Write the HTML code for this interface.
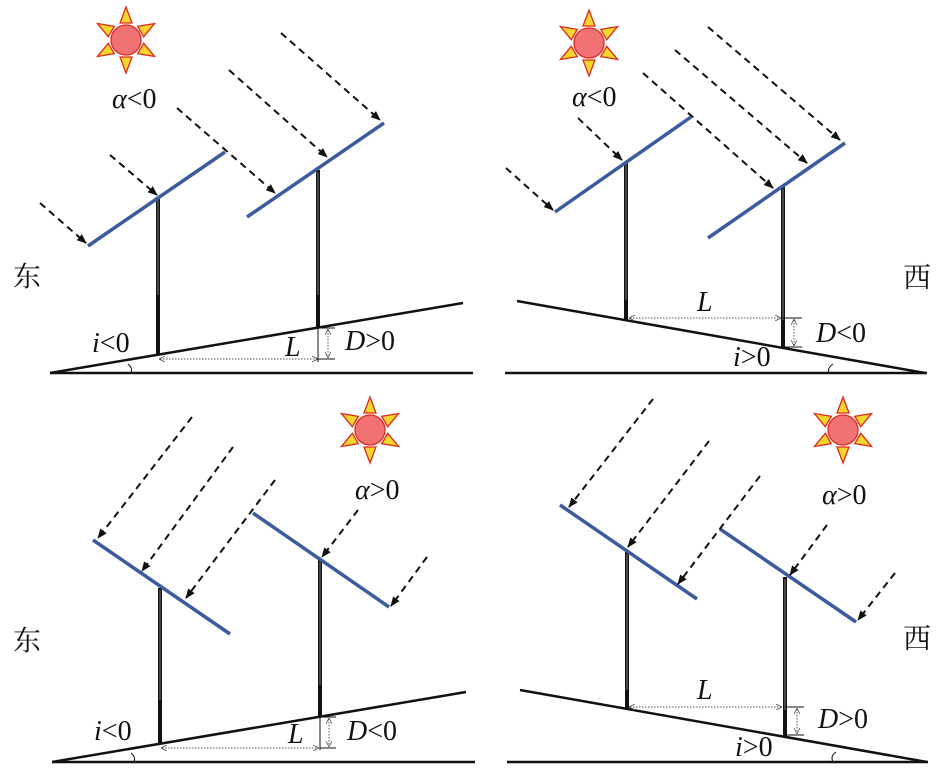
<!DOCTYPE html>
<html><head><meta charset="utf-8"><style>
html,body{margin:0;padding:0;background:#fff;}
svg{display:block;}
.g{stroke:#111;stroke-width:2.5;fill:none}
.p{stroke:#3b5b9c;stroke-width:3.5;fill:none}
.r{stroke:#111;stroke-width:2;stroke-dasharray:7,5;fill:none;marker-end:url(#ah)}
.d{stroke:#555;stroke-width:1;stroke-dasharray:1.5,1.5;fill:none;marker-end:url(#sa);marker-start:url(#sa)}
.t{stroke:#111;stroke-width:1;fill:none}
.w{stroke:#999;stroke-width:0.8;}
text{font-family:"Liberation Serif","DejaVu Serif",serif;font-size:28px;fill:#111}
.i{font-style:italic}
.cn{font-family:"Liberation Serif","Noto Serif CJK SC",serif;font-size:28px}
</style></head><body>
<svg width="945" height="779" viewBox="0 0 945 779" xmlns="http://www.w3.org/2000/svg">
<defs>
<marker id="ah" markerWidth="10" markerHeight="10" refX="9" refY="5" orient="auto" markerUnits="userSpaceOnUse"><path d="M0,1 L10,5 L0,9 z" fill="#111"/></marker>
<marker id="sa" markerWidth="6" markerHeight="6" refX="5" refY="3" orient="auto-start-reverse" markerUnits="userSpaceOnUse"><path d="M0,0 L6,3 L0,6" fill="none" stroke="#555" stroke-width="0.8"/></marker>
<g id="sun">
<g fill="#f5d62c" stroke="#e0281e" stroke-width="1.3">
<polygon points="-6,-17 6,-17 0,-33"/>
<polygon points="-6,-17 6,-17 0,-33" transform="rotate(60)"/>
<polygon points="-6,-17 6,-17 0,-33" transform="rotate(120)"/>
<polygon points="-6,-17 6,-17 0,-33" transform="rotate(180)"/>
<polygon points="-6,-17 6,-17 0,-33" transform="rotate(240)"/>
<polygon points="-6,-17 6,-17 0,-33" transform="rotate(300)"/>
</g>
<circle r="15" fill="#f07272" stroke="#e0281e" stroke-width="1.3"/>
</g>
</defs>

<!-- Panel 1 -->
<use href="#sun" x="126" y="40"/>
<line class="g" x1="50" y1="373" x2="473" y2="373"/>
<line class="g" x1="50" y1="373" x2="463" y2="303"/>
<path class="t" d="M128,364 Q133,368 131,373"/>
<rect x="156" y="198" width="4" height="157" fill="#111"/><line class="w" x1="158" y1="200" x2="158" y2="295"/>
<rect x="316" y="170" width="4" height="158" fill="#111"/><line class="w" x1="318" y1="172" x2="318" y2="295"/>
<line class="p" x1="88" y1="246" x2="225" y2="152"/>
<line class="p" x1="247" y1="217" x2="384" y2="123"/>
<line class="r" x1="40" y1="203" x2="86" y2="243"/>
<line class="r" x1="110" y1="155" x2="157" y2="195"/>
<line class="r" x1="177" y1="108" x2="275" y2="193"/>
<line class="r" x1="229" y1="70" x2="327" y2="157"/>
<line class="r" x1="281" y1="33" x2="380" y2="120"/>
<line class="d" x1="160" y1="359" x2="317" y2="359"/>
<line class="t" x1="318" y1="328" x2="335" y2="328"/><line class="t" x1="318" y1="359" x2="335" y2="359"/>
<line class="t" x1="318" y1="328" x2="318" y2="362"/>
<line class="d" x1="328" y1="330" x2="328" y2="357"/>
<text x="112" y="108"><tspan class="i">α</tspan>&lt;0</text>
<text x="92" y="352"><tspan class="i">i</tspan>&lt;0</text>
<text x="285" y="356" class="i">L</text>
<text x="345" y="350"><tspan class="i">D</tspan>&gt;0</text>
<text x="13" y="286" class="cn">东</text>

<!-- Panel 2 -->
<use href="#sun" x="589" y="43"/>
<line class="g" x1="505" y1="373" x2="927" y2="373"/>
<line class="g" x1="517" y1="301" x2="925" y2="373"/>
<path class="t" d="M833,364 Q827,368 829,373"/>
<rect x="624" y="162" width="4" height="158" fill="#111"/><line class="w" x1="626" y1="164" x2="626" y2="300"/>
<rect x="781" y="187" width="4" height="161" fill="#111"/><line class="w" x1="783" y1="189" x2="783" y2="320"/>
<line class="p" x1="555" y1="212" x2="691" y2="117"/>
<line class="p" x1="708" y1="238" x2="845" y2="143"/>
<line class="r" x1="506" y1="168" x2="553" y2="210"/>
<line class="r" x1="578" y1="118" x2="622" y2="160"/>
<line class="r" x1="643" y1="73" x2="773" y2="188"/>
<line class="r" x1="675" y1="50" x2="807" y2="163"/>
<line class="r" x1="708" y1="27" x2="840" y2="140"/>
<line class="d" x1="630" y1="318" x2="780" y2="318"/>
<line class="t" x1="783" y1="318" x2="802" y2="318"/><line class="t" x1="783" y1="347" x2="802" y2="347"/>
<line class="d" x1="794" y1="320" x2="794" y2="345"/>
<text x="572" y="106"><tspan class="i">α</tspan>&lt;0</text>
<text x="697" y="311" class="i">L</text>
<text x="816" y="342"><tspan class="i">D</tspan>&lt;0</text>
<text x="733" y="366"><tspan class="i">i</tspan>&gt;0</text>
<text x="903" y="287" class="cn">西</text>

<!-- Panel 3 -->
<use href="#sun" x="370" y="430"/>
<line class="g" x1="52" y1="762" x2="475" y2="762"/>
<line class="g" x1="52" y1="762" x2="466" y2="692"/>
<path class="t" d="M131,753 Q136,757 134,762"/>
<rect x="158" y="588" width="4" height="155" fill="#111"/><line class="w" x1="160" y1="590" x2="160" y2="700"/>
<rect x="318" y="560" width="4" height="156" fill="#111"/><line class="w" x1="320" y1="562" x2="320" y2="685"/>
<line class="p" x1="93" y1="540" x2="230" y2="634"/>
<line class="p" x1="253" y1="513" x2="389" y2="607"/>
<line class="r" x1="192" y1="417" x2="98" y2="538"/>
<line class="r" x1="233" y1="447" x2="142" y2="571"/>
<line class="r" x1="275" y1="480" x2="186" y2="598"/>
<line class="r" x1="358" y1="510" x2="322" y2="557"/>
<line class="r" x1="427" y1="557" x2="391" y2="606"/>
<line class="d" x1="162" y1="748" x2="318" y2="748"/>
<line class="t" x1="320" y1="717" x2="336" y2="717"/><line class="t" x1="320" y1="748" x2="336" y2="748"/>
<line class="t" x1="320" y1="716" x2="320" y2="750"/>
<line class="d" x1="329" y1="719" x2="329" y2="746"/>
<text x="355" y="499"><tspan class="i">α</tspan>&gt;0</text>
<text x="94" y="740"><tspan class="i">i</tspan>&lt;0</text>
<text x="288" y="743" class="i">L</text>
<text x="347" y="740"><tspan class="i">D</tspan>&lt;0</text>
<text x="13" y="650" class="cn">东</text>

<!-- Panel 4 -->
<use href="#sun" x="843" y="430"/>
<line class="g" x1="507" y1="762" x2="928" y2="762"/>
<line class="g" x1="520" y1="690" x2="927" y2="762"/>
<path class="t" d="M836,752 Q830,756 833,762"/>
<rect x="625" y="552" width="4" height="156" fill="#111"/><line class="w" x1="627" y1="554" x2="627" y2="690"/>
<rect x="783" y="577" width="4" height="159" fill="#111"/><line class="w" x1="785" y1="579" x2="785" y2="710"/>
<line class="p" x1="560" y1="505" x2="697" y2="599"/>
<line class="p" x1="720" y1="529" x2="856" y2="622"/>
<line class="r" x1="653" y1="399" x2="569" y2="507"/>
<line class="r" x1="709" y1="441" x2="628" y2="547"/>
<line class="r" x1="760" y1="476" x2="678" y2="584"/>
<line class="r" x1="827" y1="525" x2="790" y2="575"/>
<line class="r" x1="895" y1="573" x2="858" y2="620"/>
<line class="d" x1="630" y1="707" x2="781" y2="707"/>
<line class="t" x1="785" y1="707" x2="804" y2="707"/><line class="t" x1="785" y1="735" x2="804" y2="735"/>
<line class="d" x1="797" y1="709" x2="797" y2="733"/>
<text x="822" y="504"><tspan class="i">α</tspan>&gt;0</text>
<text x="697" y="699" class="i">L</text>
<text x="818" y="728"><tspan class="i">D</tspan>&gt;0</text>
<text x="735" y="756"><tspan class="i">i</tspan>&gt;0</text>
<text x="903" y="648" class="cn">西</text>
</svg>
</body></html>
